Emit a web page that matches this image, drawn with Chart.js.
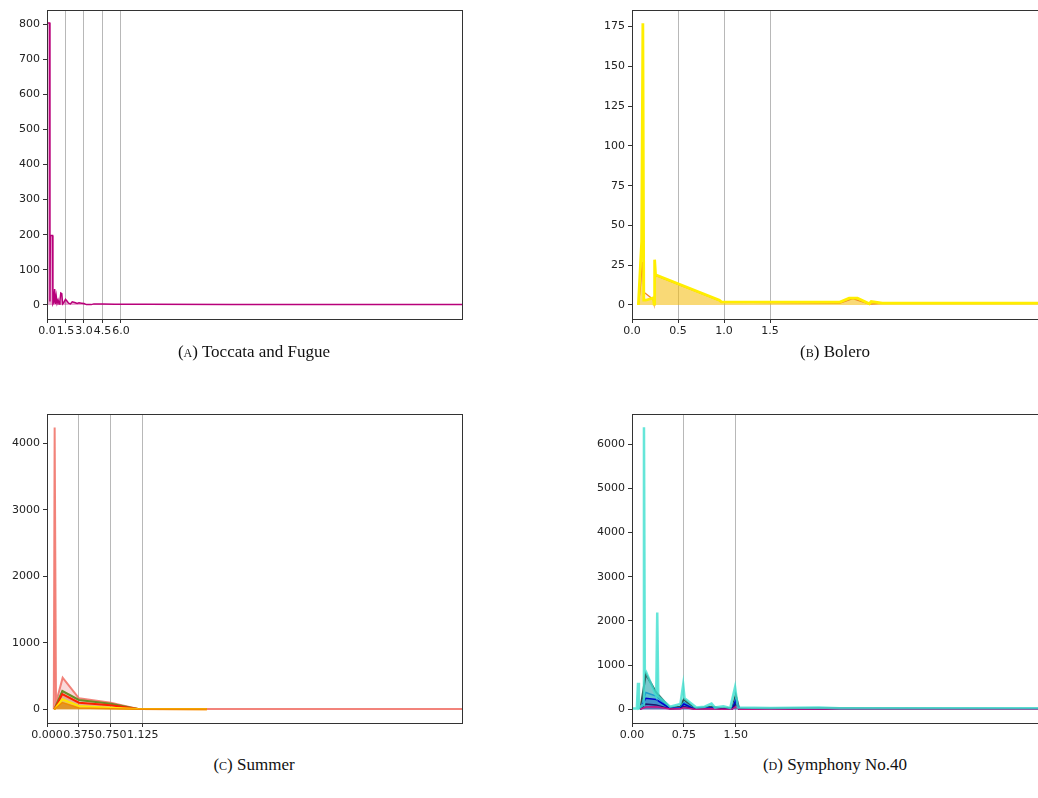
<!DOCTYPE html>
<html>
<head>
<meta charset="utf-8">
<script src="https://cdn.jsdelivr.net/npm/chart.js@4.4.0/dist/chart.umd.min.js"></script>
<style>
  html, body { margin: 0; padding: 0; background: #fff; width: 1038px; height: 798px; overflow: hidden; position: relative; }
  canvas { position: absolute; }
  .cap { position: absolute; text-align: center; font-family: 'Liberation Serif', serif; font-size: 17px; color: #111; line-height: 20px; }
  .sc { font-variant: small-caps; }
</style>
</head>
<body>
<canvas id="chartA" style="left:0px;top:0px" width="480" height="345"></canvas>
<canvas id="chartB" style="left:580px;top:0px" width="480" height="345"></canvas>
<canvas id="chartC" style="left:0px;top:400px" width="480" height="345"></canvas>
<canvas id="chartD" style="left:580px;top:400px" width="480" height="345"></canvas>
<div class="cap" style="left:0px;top:342px;width:508px"><span class="sc">(a)</span> Toccata and Fugue</div>
<div class="cap" style="left:580px;top:342px;width:510px"><span class="sc">(b)</span> Bolero</div>
<div class="cap" style="left:0px;top:755px;width:508px"><span class="sc">(c)</span> Summer</div>
<div class="cap" style="left:580px;top:755px;width:510px"><span class="sc">(d)</span> Symphony No.40</div>
<script>
// (A) Toccata and Fugue
const aX = [0, 0.02, 0.22, 0.24, 0.27, 0.45, 0.48, 0.55, 0.62, 0.68, 0.75, 0.82, 0.9, 0.98, 1.05, 1.12, 1.2, 1.27, 1.35, 1.5, 1.62, 1.75, 1.9, 2.05, 2.25, 2.45, 2.6, 2.8, 3.0, 3.2, 3.6, 3.8, 4.5, 5.5, 8, 15, 33.7];
const aY = [0, 803, 803, 10, 198, 198, 3, 8, 45, 3, 25, 5, 14, 3, 12, 34, 32, 3, 6, 16, 11, 5, 3, 9, 7, 4, 6, 5, 4, 1, 1, 3, 3, 2, 2, 1.5, 1.5];
const aXTicks = [0, 1.5, 3.0, 4.5, 6.0];
const aXLabels = ['0.0', '1.5', '3.0', '4.5', '6.0'];
const aYTicks = [0, 100, 200, 300, 400, 500, 600, 700, 800];

// (B) Bolero
const bYellowX = [0.069, 0.105, 0.118, 0.128, 0.15, 0.232, 0.240, 0.246, 0.256, 0.95, 0.97, 2.26, 2.36, 2.45, 2.58, 2.6, 2.72, 4.6];
const bYellowY = [0, 40, 177, 3, 3, 4.5, 0.5, 28.5, 19, 3, 2, 1.8, 4.3, 4.3, 0.8, 2.2, 1.2, 1.2];
const bOrangeX = [0.069, 0.09, 0.112, 0.13, 0.23, 0.24, 0.256, 0.95, 0.97, 2.26, 2.4, 2.58, 2.72, 4.6];
const bOrangeY = [0, 10, 27, 8, 3.5, 0.5, 18.6, 2.7, 1.8, 1.2, 4, 0.6, 1, 1];
const bXTicks = [0, 0.5, 1.0, 1.5];
const bXLabels = ['0.0', '0.5', '1.0', '1.5'];
const bYTicks = [0, 25, 50, 75, 100, 125, 150, 175];

// (C) Summer
const cSalmonX = [0.08, 0.09, 0.106, 0.184, 0.376, 0.75, 1.07, 1.9, 4.9];
const cSalmonY = [0, 4236, 100, 475, 165, 100, 5, 3, 3];
const cX = [0.085, 0.106, 0.18, 0.376, 0.75, 1.07, 1.88];
const cOlive = [0, 60, 275, 140, 85, 5, 3];
const cRed = [0, 40, 230, 100, 60, 4, 2];
const cYellow = [0, 30, 150, 50, 25, 3, 2];
const cOrange = [0, 20, 100, 20, 10, 2, 1];
const cXTicks = [0, 0.375, 0.75, 1.125];
const cXLabels = ['0.000', '0.375', '0.750', '1.125'];
const cYTicks = [0, 1000, 2000, 3000, 4000];

// (D) Symphony No.40
const dTurqX = [0, 0.07, 0.087, 0.1, 0.16, 0.173, 0.185, 0.2, 0.35, 0.365, 0.38, 0.55, 0.7, 0.74, 0.76, 0.93, 1.05, 1.15, 1.2, 1.32, 1.42, 1.49, 1.53, 2.0, 2.7, 3.0, 4.0, 6.1];
const dTurqY = [20, 20, 600, 30, 100, 6385, 900, 860, 300, 2190, 300, 60, 120, 560, 250, 40, 60, 130, 40, 70, 30, 500, 40, 30, 40, 25, 25, 25];
const dX = [0.12, 0.2, 0.35, 0.55, 0.7, 0.75, 0.9, 1.15, 1.3, 1.45, 1.5, 1.55, 2.7, 6.1];
const dSlate = [0, 800, 380, 30, 60, 230, 20, 60, 20, 30, 320, 15, 25, 10];
const dCyan = [0, 380, 300, 20, 40, 160, 15, 40, 15, 20, 240, 10, 15, 8];
const dBlue = [0, 250, 220, 20, 30, 120, 10, 30, 10, 15, 200, 8, 12, 6];
const dNavy = [0, 120, 100, 10, 20, 60, 6, 20, 6, 10, 120, 5, 8, 4];
const dMagenta = [0, 50, 60, 5, 10, 40, 4, 10, 4, 6, 60, 3, 5, 3];
const dXTicks = [0, 0.75, 1.5];
const dXLabels = ['0.00', '0.75', '1.50'];
const dYTicks = [0, 1000, 2000, 3000, 4000, 5000, 6000];

function pts(xs, ys) {
    return xs.map((x, i) => ({ x: x, y: ys[i] }));
}

function line(xs, ys, color, fillColor, width) {
    return {
        data: pts(xs, ys),
        borderColor: color,
        backgroundColor: fillColor,
        borderWidth: width,
        fill: fillColor ? 'origin' : false,
        pointRadius: 0,
        tension: 0
    };
}

// draws the top and right spines
const frame = {
    id: 'frame',
    afterDraw(chart) {
        const a = chart.chartArea;
        const ctx = chart.ctx;
        ctx.save();
        ctx.strokeStyle = '#333';
        ctx.lineWidth = 1;
        ctx.strokeRect(Math.round(a.left) + 0.5, Math.round(a.top) + 0.5, Math.round(a.right - a.left), Math.round(a.bottom - a.top));
        ctx.restore();
    }
};

function makePanel(id, datasets, opt) {
    new Chart(document.getElementById(id), {
        type: 'line',
        data: { datasets: datasets },
        plugins: [frame],
        options: {
            responsive: false,
            animation: false,
            layout: { padding: { top: opt.top, right: opt.right, left: 0, bottom: 0 } },
            plugins: {
                legend: { display: false },
                tooltip: { enabled: false },
                filler: { drawTime: 'beforeDatasetsDraw' }
            },
            scales: {
                x: {
                    type: 'linear',
                    min: 0,
                    max: opt.xMax,
                    afterFit: s => { s.height = opt.xh; },
                    afterBuildTicks: s => { s.ticks = opt.xTicks.map(v => ({ value: v })); },
                    ticks: {
                        autoSkip: false,
                        maxRotation: 0,
                        padding: 2,
                        color: '#222',
                        font: { family: 'DejaVu Sans', size: 11 },
                        callback: (v, i) => opt.xLabels[i]
                    },
                    grid: { color: '#b8b8b8', lineWidth: 1, tickColor: '#333', tickLength: 4 },
                    border: { display: true, color: '#333', width: 1 }
                },
                y: {
                    type: 'linear',
                    min: opt.yMin,
                    max: opt.yMax,
                    afterFit: s => { s.width = opt.yw; },
                    afterBuildTicks: s => { s.ticks = opt.yTicks.map(v => ({ value: v })); },
                    ticks: {
                        padding: 3,
                        color: '#222',
                        font: { family: 'DejaVu Sans', size: 11 },
                        callback: v => String(v)
                    },
                    grid: { drawOnChartArea: false, tickColor: '#333', tickLength: 4 },
                    border: { display: true, color: '#333', width: 1 }
                }
            }
        }
    });
}

makePanel('chartA', [
    line(aX, aY, '#b8007a', 'rgba(190,0,120,0.35)', 1.5)
], { top: 10, right: 18, xh: 26, yw: 47, xMax: 33.7, yMin: -40, yMax: 840, xTicks: aXTicks, xLabels: aXLabels, yTicks: aYTicks });

makePanel('chartB', [
    line(bYellowX, bYellowY, '#ffee00', 'rgba(245,196,0,0.5)', 2.8),
    line(bOrangeX, bOrangeY, '#f08020', 'rgba(250,110,90,0.1)', 1.2)
], { top: 10, right: 13, xh: 26, yw: 52, xMax: 4.51, yMin: -8.8, yMax: 185.4, xTicks: bXTicks, xLabels: bXLabels, yTicks: bYTicks });

makePanel('chartC', [
    line(cX, cOrange, '#f08c00', 'rgba(220,130,20,0.7)', 1.5),
    line(cX, cYellow, '#ffe600', 'rgba(255,230,0,0.4)', 2),
    line(cX, cRed, '#ff2000', 'rgba(255,40,0,0.2)', 2),
    line(cX, cOlive, '#6b8e23', 'rgba(107,142,35,0.2)', 2),
    line(cSalmonX, cSalmonY, 'rgba(240,110,100,0.85)', 'rgba(240,128,128,0.3)', 2)
], { top: 14, right: 18, xh: 22, yw: 47, xMax: 4.88, yMin: -206, yMax: 4440, xTicks: cXTicks, xLabels: cXLabels, yTicks: cYTicks });

makePanel('chartD', [
    line(dTurqX, dTurqY, 'rgba(64,224,208,0.8)', 'rgba(64,224,208,0.35)', 2.5),
    line(dX, dMagenta, '#c71585', 'rgba(199,21,133,0.4)', 1.5),
    line(dX, dNavy, '#191970', 'rgba(60,20,160,0.4)', 1.5),
    line(dX, dBlue, '#0000cd', 'rgba(0,0,205,0.4)', 1.5),
    line(dX, dCyan, '#1e9ad0', 'rgba(30,150,200,0.3)', 1.5),
    line(dX, dSlate, '#2f4f4f', 'rgba(70,130,160,0.55)', 2)
], { top: 14, right: 13, xh: 22, yw: 52, xMax: 6.0, yMin: -310, yMax: 6686, xTicks: dXTicks, xLabels: dXLabels, yTicks: dYTicks });
</script>
</body>
</html>
